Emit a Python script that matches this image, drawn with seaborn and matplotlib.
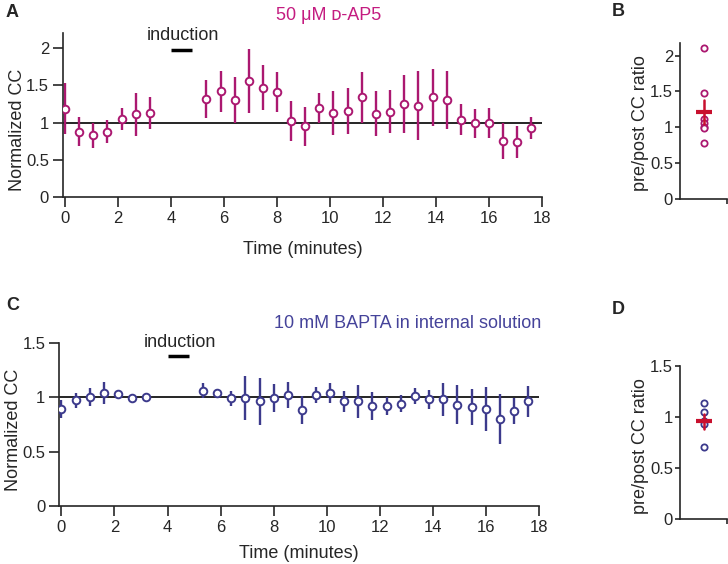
import numpy as np
import pandas as pd
import matplotlib
matplotlib.use('Agg')
import matplotlib.pyplot as plt
import seaborn as sns

# time points (minutes), same for both experiments
time_min = [0, 0.53, 1.07, 1.6, 2.13, 2.67, 3.2,
            5.33, 5.87, 6.4, 6.93, 7.47, 8.0, 8.53, 9.07, 9.6, 10.13, 10.67,
            11.2, 11.73, 12.27, 12.8, 13.33, 13.87, 14.4, 14.93, 15.47, 16.0,
            16.53, 17.07, 17.6]

# A: 50 uM D-AP5
ap5_mean = [1.19, 0.88, 0.83, 0.88, 1.05, 1.11, 1.13,
            1.32, 1.42, 1.31, 1.56, 1.47, 1.41, 1.02, 0.95, 1.20, 1.13, 1.16,
            1.34, 1.12, 1.15, 1.25, 1.23, 1.34, 1.31, 1.04, 0.99, 1.00,
            0.75, 0.74, 0.93]
ap5_sem = [0.34, 0.19, 0.17, 0.16, 0.15, 0.29, 0.21,
           0.26, 0.27, 0.31, 0.43, 0.30, 0.27, 0.27, 0.26, 0.20, 0.30, 0.31,
           0.34, 0.30, 0.29, 0.39, 0.46, 0.38, 0.39, 0.21, 0.19, 0.20,
           0.24, 0.22, 0.15]

# C: 10 mM BAPTA
bapta_mean = [0.89, 0.97, 1.00, 1.04, 1.03, 0.99, 1.00,
              1.06, 1.04, 0.99, 0.99, 0.96, 0.99, 1.02, 0.88, 1.02, 1.04, 0.96,
              0.96, 0.92, 0.92, 0.94, 1.01, 0.98, 0.98, 0.93, 0.91, 0.89,
              0.80, 0.87, 0.96]
bapta_sem = [0.08, 0.07, 0.08, 0.10, 0.02, 0.02, 0.015,
             0.07, 0.035, 0.07, 0.20, 0.22, 0.13, 0.12, 0.13, 0.07, 0.09, 0.10,
             0.15, 0.13, 0.08, 0.075, 0.07, 0.09, 0.15, 0.18, 0.165, 0.20,
             0.23, 0.12, 0.14]

# B, D: per-cell pre/post ratios
ap5_ratio = [2.10, 1.47, 1.11, 1.05, 1.00, 0.98, 0.78]
bapta_ratio = [1.13, 1.05, 0.96, 0.93, 0.70]

induction_start, induction_end = 4.0, 4.8

magenta = '#ab1870'
magenta_txt = '#c41c80'
blue = '#3c3a8c'
blue_txt = '#45439a'
red = '#c8102e'

sns.set_style('ticks')
plt.rcParams['font.family'] = ['Liberation Sans', 'DejaVu Sans']
plt.rcParams['font.size'] = 13
plt.rcParams['axes.linewidth'] = 1.2

fig = plt.figure(figsize=(7.28, 5.64), dpi=100)

axA = fig.add_axes([0.0865, 0.6507, 0.658, 0.290])
axB = fig.add_axes([0.934, 0.648, 0.064, 0.275])
axC = fig.add_axes([0.0815, 0.1028, 0.6585, 0.2896])
axD = fig.add_axes([0.934, 0.0803, 0.064, 0.2713])


def time_panel(ax, mean, sem, color, ylim, yticks, yticklabels, ybar, ytext,
               xlabelpad, ylabel_y):
    ax.axhline(1, color='black', lw=1.2, zorder=1)
    ax.errorbar(time_min, mean, yerr=sem, fmt='none', ecolor=color,
                elinewidth=1.7, capsize=0, zorder=2)
    sns.scatterplot(x=time_min, y=mean, ax=ax, color='white', edgecolor=color,
                    linewidth=1.4, s=30, zorder=3, legend=False)
    ax.plot([induction_start, induction_end], [ybar, ybar], color='black', lw=2.5,
            solid_capstyle='butt')
    ax.text((induction_start + induction_end) / 2 + 0.05, ytext, 'induction',
            ha='center', va='baseline', fontsize=13)
    ax.set_xlim(-0.08, 18)
    ax.set_ylim(*ylim)
    ax.set_xticks([0, 2, 4, 6, 8, 10, 12, 14, 16, 18])
    ax.set_xticklabels(['0', '2', '4', '6', '8', '10', '12', '14', '16', '18'])
    ax.set_yticks(yticks)
    ax.set_yticklabels(yticklabels)
    ax.set_xlabel('Time (minutes)', labelpad=xlabelpad)
    ax.set_ylabel('Normalized CC')
    ax.yaxis.set_label_coords(-0.078, ylabel_y)
    ax.tick_params(axis='both', length=7.5, width=1.2, pad=2.5, labelsize=12)
    sns.despine(ax=ax)
    ax.patch.set_alpha(0)


def ratio_panel(ax, vals, color, ylim, yticks, yticklabels, ylabel_y):
    sns.stripplot(y=vals, ax=ax, jitter=False, color='white', edgecolor=color,
                  linewidth=1.3, size=4.5, zorder=2)
    sns.pointplot(y=vals, ax=ax, errorbar='se', color=red, markers='_',
                  markersize=11, markeredgewidth=3, linestyle='none',
                  err_kws={'linewidth': 1.8}, zorder=3)
    ax.set_xlim(-0.55, 0.5)
    ax.set_xticks([0.5])
    ax.set_xticklabels([''])
    ax.set_ylim(*ylim)
    ax.set_yticks(yticks)
    ax.set_yticklabels(yticklabels)
    ax.set_xlabel('')
    ax.set_ylabel('pre/post CC ratio')
    ax.yaxis.set_label_coords(-0.66, ylabel_y)
    ax.tick_params(axis='both', length=3.5, width=1.2, pad=1.5, labelsize=12)
    sns.despine(ax=ax)
    ax.patch.set_alpha(0)


time_panel(axA, ap5_mean, ap5_sem, magenta, (0, 2.2),
           [0, 0.5, 1, 1.5, 2], ['0', '0.5', '1', '1.5', '2'],
           1.98, 2.11, 11, 0.41)
time_panel(axC, bapta_mean, bapta_sem, blue, (0, 1.5),
           [0, 0.5, 1, 1.5], ['0', '0.5', '1', '1.5'],
           1.376, 1.46, 7, 0.465)
ratio_panel(axB, ap5_ratio, magenta, (0, 2.17),
            [0, 0.5, 1, 1.5, 2], ['0', '0.5', '1', '1.5', '2'], 0.484)
ratio_panel(axD, bapta_ratio, blue, (0, 1.5),
            [0, 0.5, 1, 1.5], ['0', '0.5', '1', '1.5'], 0.478)

fig.text(0.008, 0.977, 'A', fontsize=13, fontweight='bold', ha='left', va='center')
fig.text(0.841, 0.980, 'B', fontsize=13, fontweight='bold', ha='left', va='center')
fig.text(0.008, 0.459, 'C', fontsize=13, fontweight='bold', ha='left', va='center')
fig.text(0.841, 0.452, 'D', fontsize=13, fontweight='bold', ha='left', va='center')

fig.text(0.452, 0.973, '50 μM ᴅ-AP5', color=magenta_txt, fontsize=13,
         ha='center', va='center')
fig.text(0.560, 0.427, '10 mM BAPTA in internal solution', color=blue_txt,
         fontsize=13, ha='center', va='center')

fig.savefig('out.png', dpi=100)
